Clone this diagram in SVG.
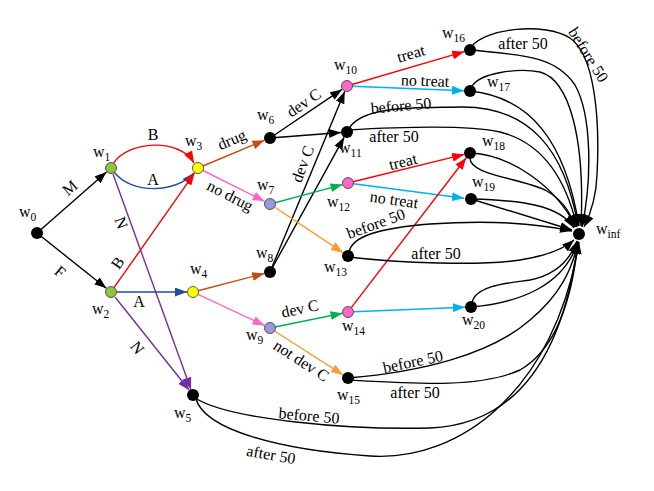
<svg xmlns="http://www.w3.org/2000/svg" width="654" height="491" viewBox="0 0 654 491">
<style>
.e{fill:none;stroke-width:1.4}
.k{stroke:#000}
.lbl{font-family:"Liberation Serif",serif;font-size:16px;fill:#000;text-anchor:middle}
.nl{font-family:"Liberation Serif",serif;font-size:16px;fill:#000}
.sub{font-size:11.5px}
.bn{fill:#000}
.cn{stroke:#333;stroke-width:0.8}
</style>
<defs>
<marker id="ak" markerUnits="userSpaceOnUse" markerWidth="12" markerHeight="9" refX="12" refY="4.5" orient="auto"><path d="M0,0 L12,4.5 L0,9 z" fill="#000"/></marker>
<marker id="ar" markerUnits="userSpaceOnUse" markerWidth="12" markerHeight="9" refX="12" refY="4.5" orient="auto"><path d="M0,0 L12,4.5 L0,9 z" fill="#ff0000"/></marker>
<marker id="ab" markerUnits="userSpaceOnUse" markerWidth="12" markerHeight="9" refX="12" refY="4.5" orient="auto"><path d="M0,0 L12,4.5 L0,9 z" fill="#1f4e9c"/></marker>
<marker id="ap" markerUnits="userSpaceOnUse" markerWidth="12" markerHeight="9" refX="12" refY="4.5" orient="auto"><path d="M0,0 L12,4.5 L0,9 z" fill="#7030a0"/></marker>
<marker id="abr" markerUnits="userSpaceOnUse" markerWidth="12" markerHeight="9" refX="12" refY="4.5" orient="auto"><path d="M0,0 L12,4.5 L0,9 z" fill="#c84b0e"/></marker>
<marker id="apk" markerUnits="userSpaceOnUse" markerWidth="12" markerHeight="9" refX="12" refY="4.5" orient="auto"><path d="M0,0 L12,4.5 L0,9 z" fill="#ff66cc"/></marker>
<marker id="ag" markerUnits="userSpaceOnUse" markerWidth="12" markerHeight="9" refX="12" refY="4.5" orient="auto"><path d="M0,0 L12,4.5 L0,9 z" fill="#00b050"/></marker>
<marker id="ao" markerUnits="userSpaceOnUse" markerWidth="12" markerHeight="9" refX="12" refY="4.5" orient="auto"><path d="M0,0 L12,4.5 L0,9 z" fill="#ff9933"/></marker>
<marker id="ac" markerUnits="userSpaceOnUse" markerWidth="12" markerHeight="9" refX="12" refY="4.5" orient="auto"><path d="M0,0 L12,4.5 L0,9 z" fill="#00b0f0"/></marker>
</defs>
<rect width="654" height="491" fill="#fff"/>
<g id="connectors">
<line class="e k" x1="37" y1="233" x2="106.5" y2="172" marker-end="url(#ak)"/>
<line class="e k" x1="37" y1="233" x2="106.3" y2="288.3" marker-end="url(#ak)"/>
<path class="e" stroke="#ff0000" d="M113,164 C128,140 180,138 194,163" marker-end="url(#ar)"/>
<path class="e" stroke="#1f4e9c" d="M114,172 C132,195 176,193 194,173" marker-end="url(#ab)"/>
<line class="e" stroke="#7030a0" x1="113" y1="174" x2="191" y2="389.4" marker-end="url(#ap)"/>
<line class="e" stroke="#ff0000" x1="114" y1="287.7" x2="194.6" y2="172.9" marker-end="url(#ar)"/>
<line class="e" stroke="#1f4e9c" x1="117" y1="292" x2="187" y2="292" marker-end="url(#ab)"/>
<line class="e" stroke="#7030a0" x1="115" y1="297" x2="189.3" y2="390.3" marker-end="url(#ap)"/>
<line class="e" stroke="#c84b0e" x1="203" y1="166" x2="264.5" y2="140.3" marker-end="url(#abr)"/>
<line class="e" stroke="#ff66cc" x1="203" y1="170.5" x2="264.6" y2="201.3" marker-end="url(#apk)"/>
<line class="e" stroke="#c84b0e" x1="198" y1="290.7" x2="264.2" y2="273.5" marker-end="url(#abr)"/>
<line class="e" stroke="#ff66cc" x1="198" y1="294.4" x2="264.6" y2="325.5" marker-end="url(#apk)"/>
<line class="e k" x1="270" y1="138" x2="342" y2="89.4" marker-end="url(#ak)"/>
<line class="e k" x1="270" y1="138" x2="341" y2="132.5" marker-end="url(#ak)"/>
<line class="e k" x1="270" y1="272" x2="344.7" y2="91.5" marker-end="url(#ak)"/>
<line class="e k" x1="270" y1="272" x2="344.1" y2="137.3" marker-end="url(#ak)"/>
<line class="e" stroke="#00b050" x1="275" y1="202.7" x2="342.5" y2="184.6" marker-end="url(#ag)"/>
<line class="e" stroke="#ff9933" x1="274.5" y1="207" x2="343" y2="252.7" marker-end="url(#ao)"/>
<line class="e" stroke="#00b050" x1="275" y1="327" x2="342.5" y2="313.2" marker-end="url(#ag)"/>
<line class="e" stroke="#ff9933" x1="274.5" y1="331" x2="343" y2="374.8" marker-end="url(#ao)"/>
<line class="e" stroke="#ff0000" x1="352" y1="84.5" x2="464.2" y2="51.7" marker-end="url(#ar)"/>
<line class="e" stroke="#00b0f0" x1="352.5" y1="86.2" x2="464" y2="90.8" marker-end="url(#ac)"/>
<line class="e" stroke="#ff0000" x1="353" y1="181.8" x2="464.2" y2="154.4" marker-end="url(#ar)"/>
<line class="e" stroke="#00b0f0" x1="353.5" y1="183.7" x2="464" y2="198.2" marker-end="url(#ac)"/>
<line class="e" stroke="#ff0000" x1="351.3" y1="307.6" x2="466.3" y2="157.8" marker-end="url(#ar)"/>
<line class="e" stroke="#00b0f0" x1="353.5" y1="311.8" x2="465" y2="307.2" marker-end="url(#ac)"/>
<path class="e k" d="M471,47 C485,28 545,22 570,38 C595,55 600,120 597,175 C596,200 590,215 584,227" marker-end="url(#ak)"/>
<path class="e k" d="M471,50 C520,55 555,55 575,85 C592,115 592,180 582,227" marker-end="url(#ak)"/>
<path class="e k" d="M471,88 C478,72 520,68 540,72 C570,80 585,140 581,226" marker-end="url(#ak)"/>
<path class="e k" d="M471,91 C530,98 565,140 579,226" marker-end="url(#ak)"/>
<path class="e k" d="M350,127 C365,105 420,108 460,107 C530,106 565,150 578,226" marker-end="url(#ak)"/>
<path class="e k" d="M347,130 C400,127 470,125 500,132 C540,142 565,175 577,227" marker-end="url(#ak)"/>
<path class="e k" d="M471,153 C510,155 555,185 576,227" marker-end="url(#ak)"/>
<path class="e k" d="M470,157 C468,175 520,178 545,190 C560,198 570,210 575,227" marker-end="url(#ak)"/>
<path class="e k" d="M471,199 C520,200 560,205 574,228" marker-end="url(#ak)"/>
<line class="e k" x1="471" y1="199" x2="572" y2="230" marker-end="url(#ak)"/>
<path class="e k" d="M349,252 C352,236 380,228 430,224 C490,220 540,224 572,231" marker-end="url(#ak)"/>
<path class="e k" d="M348,257 C400,263 480,266 520,260 C550,255 565,248 574,240" marker-end="url(#ak)"/>
<path class="e k" d="M472,303 C475,285 510,283 530,280 C555,275 570,260 577,241" marker-end="url(#ak)"/>
<path class="e k" d="M471,307 C520,303 565,285 578,241" marker-end="url(#ak)"/>
<path class="e k" d="M348,378 C420,372 490,355 530,320 C560,295 572,270 578,242" marker-end="url(#ak)"/>
<path class="e k" d="M348,380 C420,384 480,388 520,370 C555,350 572,300 578,242" marker-end="url(#ak)"/>
<path class="e k" d="M195,398 C230,420 350,430 430,428 C500,425 560,380 578,242" marker-end="url(#ak)"/>
<path class="e k" d="M196,399 C205,430 280,450 370,456 C460,462 555,390 579,242" marker-end="url(#ak)"/>
</g>
<g id="edge-labels">
<text class="lbl" transform="translate(70,188) rotate(-41)" y="5">M</text>
<text class="lbl" transform="translate(60,272) rotate(40)" y="5">F</text>
<text class="lbl" x="153" y="140">B</text>
<text class="lbl" x="153" y="185">A</text>
<text class="lbl" transform="translate(121,223) rotate(70)" y="5">N</text>
<text class="lbl" transform="translate(118,263) rotate(-55)" y="5">B</text>
<text class="lbl" x="139" y="307">A</text>
<text class="lbl" transform="translate(137,348) rotate(52)" y="5">N</text>
<text class="lbl" transform="translate(232,140) rotate(-23)" y="5">drug</text>
<text class="lbl" transform="translate(230,196) rotate(27)" y="5">no drug</text>
<text class="lbl" transform="translate(304,103) rotate(-34)" y="5">dev C</text>
<text class="lbl" transform="translate(303,164) rotate(-69)" y="5">dev C</text>
<text class="lbl" transform="translate(300,309) rotate(-12)" y="5">dev C</text>
<text class="lbl" transform="translate(301,361) rotate(33)" y="5">not dev C</text>
<text class="lbl" transform="translate(411,54) rotate(-16)" y="5">treat</text>
<text class="lbl" transform="translate(425,81) rotate(2)" y="5">no treat</text>
<text class="lbl" transform="translate(401,106) rotate(-5)" y="5">before 50</text>
<text class="lbl" x="394" y="142">after 50</text>
<text class="lbl" transform="translate(403,162) rotate(-14)" y="5">treat</text>
<text class="lbl" transform="translate(394,200) rotate(8)" y="5">no treat</text>
<text class="lbl" transform="translate(376,224) rotate(-20)" y="5">before 50</text>
<text class="lbl" x="436" y="259">after 50</text>
<text class="lbl" transform="translate(413,362) rotate(-12)" y="5">before 50</text>
<text class="lbl" x="415" y="398">after 50</text>
<text class="lbl" transform="translate(309,416) rotate(5)" y="5">before 50</text>
<text class="lbl" transform="translate(271,455) rotate(10)" y="5">after 50</text>
<text class="lbl" x="523" y="49">after 50</text>
<text class="lbl" transform="translate(588,55) rotate(58)" y="5">before 50</text>
</g>
<g id="w0"><circle class="bn" cx="37" cy="233" r="6"/><text class="nl" x="19" y="217">w<tspan class="sub" dy="4">0</tspan></text></g>
<g id="w1"><circle class="cn" fill="#8cc63f" cx="111" cy="168" r="5.5"/><text class="nl" x="93" y="157">w<tspan class="sub" dy="4">1</tspan></text></g>
<g id="w2"><circle class="cn" fill="#8cc63f" cx="111" cy="292" r="5.5"/><text class="nl" x="92" y="314">w<tspan class="sub" dy="4">2</tspan></text></g>
<g id="w3"><circle class="cn" fill="#ffff00" cx="198" cy="168" r="5.5"/><text class="nl" x="185" y="146">w<tspan class="sub" dy="4">3</tspan></text></g>
<g id="w4"><circle class="cn" fill="#ffff00" cx="193" cy="292" r="5.5"/><text class="nl" x="190" y="274">w<tspan class="sub" dy="4">4</tspan></text></g>
<g id="w5"><circle class="bn" cx="193" cy="395" r="6"/><text class="nl" x="174" y="418">w<tspan class="sub" dy="4">5</tspan></text></g>
<g id="w6"><circle class="bn" cx="270" cy="138" r="6"/><text class="nl" x="257" y="120">w<tspan class="sub" dy="4">6</tspan></text></g>
<g id="w7"><circle class="cn" fill="#9999dd" cx="270" cy="204" r="5.5"/><text class="nl" x="257" y="190">w<tspan class="sub" dy="4">7</tspan></text></g>
<g id="w8"><circle class="bn" cx="270" cy="272" r="6"/><text class="nl" x="256" y="258">w<tspan class="sub" dy="4">8</tspan></text></g>
<g id="w9"><circle class="cn" fill="#9999dd" cx="270" cy="328" r="5.5"/><text class="nl" x="246" y="340">w<tspan class="sub" dy="4">9</tspan></text></g>
<g id="w10"><circle class="cn" fill="#ff66cc" cx="347" cy="86" r="5.5"/><text class="nl" x="334" y="70">w<tspan class="sub" dy="4">10</tspan></text></g>
<g id="w11"><circle class="bn" cx="347" cy="132" r="6"/><text class="nl" x="339" y="153">w<tspan class="sub" dy="4">11</tspan></text></g>
<g id="w12"><circle class="cn" fill="#ff66cc" cx="348" cy="183" r="5.5"/><text class="nl" x="327" y="207">w<tspan class="sub" dy="4">12</tspan></text></g>
<g id="w13"><circle class="bn" cx="348" cy="256" r="6"/><text class="nl" x="324" y="272">w<tspan class="sub" dy="4">13</tspan></text></g>
<g id="w14"><circle class="cn" fill="#ff66cc" cx="348" cy="312" r="5.5"/><text class="nl" x="342" y="331">w<tspan class="sub" dy="4">14</tspan></text></g>
<g id="w15"><circle class="bn" cx="348" cy="378" r="6"/><text class="nl" x="337" y="400">w<tspan class="sub" dy="4">15</tspan></text></g>
<g id="w16"><circle class="bn" cx="470" cy="50" r="6"/><text class="nl" x="442" y="38">w<tspan class="sub" dy="4">16</tspan></text></g>
<g id="w17"><circle class="bn" cx="470" cy="91" r="6"/><text class="nl" x="487" y="87">w<tspan class="sub" dy="4">17</tspan></text></g>
<g id="w18"><circle class="bn" cx="470" cy="153" r="6"/><text class="nl" x="482" y="146">w<tspan class="sub" dy="4">18</tspan></text></g>
<g id="w19"><circle class="bn" cx="471" cy="199" r="6"/><text class="nl" x="472" y="187">w<tspan class="sub" dy="4">19</tspan></text></g>
<g id="w20"><circle class="bn" cx="471" cy="307" r="6"/><text class="nl" x="462" y="325">w<tspan class="sub" dy="4">20</tspan></text></g>
<g id="winf"><circle class="bn" cx="579" cy="234" r="6"/><text class="nl" x="596" y="234">w<tspan class="sub" dy="4">inf</tspan></text></g>
</svg>
